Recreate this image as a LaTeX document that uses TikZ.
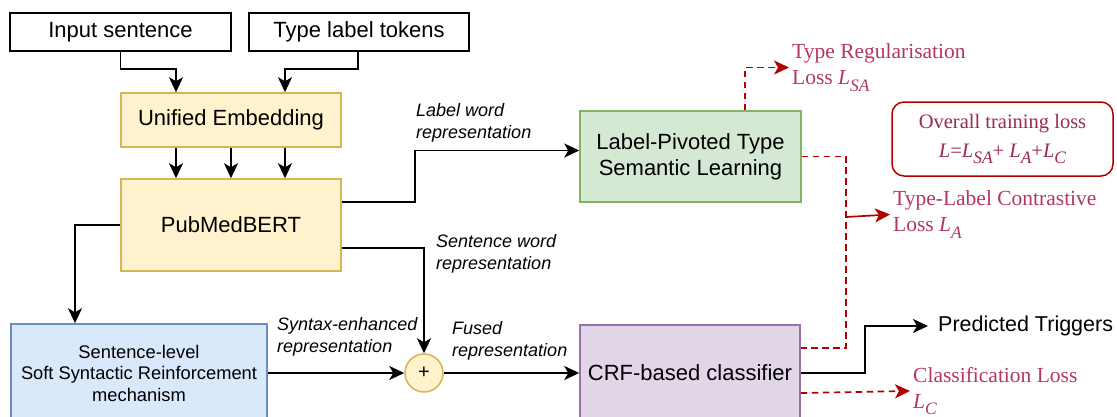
\documentclass[tikz,border=0pt]{standalone}
\usepackage{fontspec}
\setmainfont{Liberation Sans}
\newfontfamily\lossfont{Liberation Serif}
\usetikzlibrary{arrows.meta,calc}

\definecolor{yfill}{HTML}{FFF2CC}
\definecolor{ydraw}{HTML}{D6B656}
\definecolor{gfill}{HTML}{D5E8D4}
\definecolor{gdraw}{HTML}{82B366}
\definecolor{bfill}{HTML}{DAE8FC}
\definecolor{bdraw}{HTML}{6C8EBF}
\definecolor{pfill}{HTML}{E1D5E7}
\definecolor{pdraw}{HTML}{9673A6}
\definecolor{lossred}{HTML}{B20000}
\definecolor{losstext}{HTML}{B5375F}
\definecolor{totaltext}{HTML}{9A2A4E}

% italic subscript used in the loss symbols
\newcommand{\losssub}[1]{\raisebox{-0.32em}{\fontsize{17.5}{17.5}\selectfont\itshape #1}}

\tikzset{
  box/.style={draw, line width=1.5pt, align=center,
    font=\fontsize{22}{26}\selectfont, inner sep=2pt},
  inbox/.style={box, fill=white, draw=black, minimum height=38pt},
  ybox/.style={box, fill=yfill, draw=ydraw, minimum width=220pt},
  gbox/.style={box, fill=gfill, draw=gdraw},
  bbox/.style={box, fill=bfill, draw=bdraw, font=\fontsize{18.3}{21.5}\selectfont},
  pbox/.style={box, fill=pfill, draw=pdraw},
  edgelabel/.style={anchor=west, align=left, inner sep=0pt,
    font=\fontsize{18}{21.5}\selectfont\itshape},
  losslabel/.style={anchor=west, align=left, inner xsep=3pt, inner ysep=0pt,
    text=losstext, font=\lossfont\fontsize{21.5}{26}\selectfont},
  arr/.style={line width=1.7pt, -{Stealth[length=15pt,width=14pt,inset=4pt]}},
  reddash/.style={draw=lossred, line width=1.7pt, dash pattern=on 6.5pt off 4.5pt},
  redarr/.style={draw=lossred, line width=1.7pt,
    -{Stealth[length=15pt,width=14pt,inset=4pt,fill=lossred]}},
}

\begin{document}
\begin{tikzpicture}[x=1pt,y=-1pt]
\useasboundingbox (0,0) rectangle (1117,416);
\clip (0,0) rectangle (1117,416);

% inputs
\node[inbox, minimum width=221pt] (inp) at (120.5,32) {Input sentence};
\node[inbox, minimum width=220pt] (typ) at (359,32) {Type label tokens};

% encoder
\node[ybox, minimum height=54pt] (ue) at (231,120) {Unified Embedding};
\node[ybox, minimum height=92pt] (pmb) at (231,225) {PubMedBERT};

% branches
\node[gbox, minimum width=221pt, minimum height=91pt] (lpt) at (690.5,156.5)
  {Label-Pivoted Type\\Semantic Learning};
\node[bbox, minimum width=256pt, minimum height=98pt] (ssr) at (139,373)
  {Sentence-level\\Soft Syntactic Reinforcement\\mechanism};
\node[circle, draw=ydraw, fill=yfill, line width=1.5pt, minimum size=38pt,
  inner sep=0pt, font=\fontsize{20}{20}\selectfont] (sum) at (424,373) {+};
\node[pbox, minimum width=220pt, minimum height=96pt] (crf) at (690,373)
  {CRF-based classifier};

% outputs
\node[anchor=west, inner sep=0pt, font=\fontsize{21.5}{25}\selectfont] (pred)
  at (938,326) {Predicted Triggers};
\node[losslabel] (lsa) at (789,67.5)
  {Type Regularisation\\Loss \textit{L}\losssub{SA}};
\node[losslabel] (la) at (890,214.5)
  {Type-Label Contrastive\\Loss \textit{L}\losssub{A}};
\node[losslabel] (lc) at (910,391)
  {Classification Loss\\\textit{L}\losssub{C}};
\node[draw=lossred, line width=1.5pt, rounded corners=12pt, fill=white,
  minimum width=221pt, minimum height=74pt, align=center, text=totaltext,
  font=\lossfont\fontsize{20.5}{29}\selectfont] (total) at (1002.5,139)
  {Overall training loss\\\textit{L}=\textit{L}\losssub{SA}+ \textit{L}\losssub{A}+\textit{L}\losssub{C}};

% input connectors
\draw[arr] (inp.south) -- ++(0,17) -| ([xshift=-55pt]ue.north);
\draw[arr] ([xshift=-1pt]typ.south) -- ++(0,17) -| ([xshift=54pt]ue.north);
\foreach \dx in {-55,0,54}
  \draw[arr] ([xshift=\dx pt]ue.south) -- ([xshift=\dx pt]pmb.north);

% encoder outputs
\draw[arr] ([yshift=23pt]pmb.east) -- ++(73,0) |- ([yshift=6pt]lpt.west);
\node[edgelabel] (lwl) at (416,123) {Label word\\representation};
\draw[arr] ([yshift=-23pt]pmb.east) -| (sum.north);
\node[edgelabel] (swl) at (436,254) {Sentence word\\representation};
\draw[arr] (pmb.west) -| ([xshift=-64pt]ssr.north);

% fusion
\draw[arr] (ssr.east) -- (sum.west);
\node[edgelabel] (sel) at (277,337) {Syntax-enhanced\\representation};
\draw[arr] (sum.east) -- (crf.west);
\node[edgelabel] (fl) at (452,341) {Fused\\representation};

% prediction
\draw[arr] (crf.east) -- ++(64,0) |- ([xshift=-10pt]pred.west);

% losses
\draw[reddash, redarr] ([xshift=54.5pt]lpt.north) |- (lsa.west);
\coordinate (cj) at (846,217);
\draw[reddash] (lpt.east) -| (cj) |- ([yshift=25pt]crf.east);
\draw[redarr] (cj) -- (la.west);
\draw[reddash, redarr] ([yshift=-20pt]crf.east) -- (lc.west);
\end{tikzpicture}
\end{document}
